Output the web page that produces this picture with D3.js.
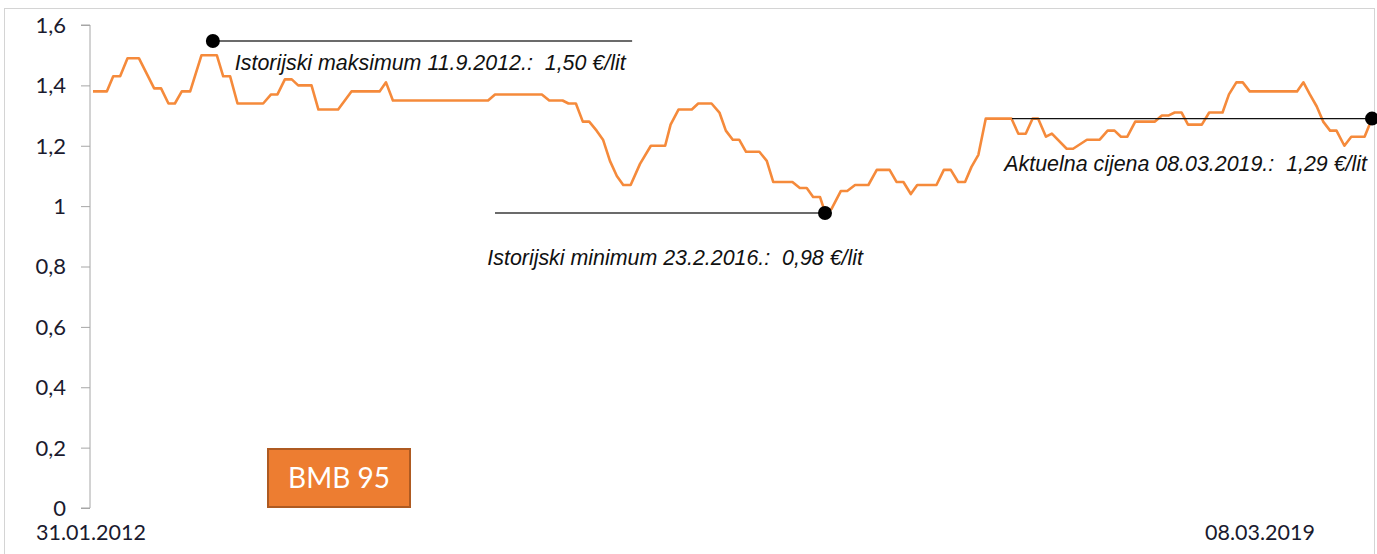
<!DOCTYPE html>
<html>
<head>
<meta charset="utf-8">
<script src="https://cdn.jsdelivr.net/npm/d3@7"></script>
<style>
    body { margin: 0; background: #fff; }
    .lbl { font-family: Lato, "Open Sans", sans-serif; fill: #1a1a2e; }
    .ann { font-family: "Liberation Sans", Arial, sans-serif; font-style: italic; font-size: 21.4px; fill: #111; white-space: pre; }
</style>
</head>
<body>
<script>
    // vertices of the BMB 95 price line (date, €/lit)
    const dates = [
        "2012-01-31","2012-02-28","2012-03-12","2012-03-26","2012-04-10","2012-05-03","2012-06-03","2012-06-17",
        "2012-07-02","2012-07-15","2012-07-29","2012-08-15","2012-09-07","2012-10-08","2012-10-21","2012-11-04",
        "2012-11-19","2013-01-10","2013-01-26","2013-02-08","2013-02-23","2013-03-09","2013-03-22","2013-04-18",
        "2013-05-02","2013-06-11","2013-07-08","2013-09-03","2013-09-16","2013-09-30","2014-04-11","2014-04-25",
        "2014-07-29","2014-08-13","2014-09-09","2014-09-21","2014-10-06","2014-10-20","2014-11-02","2014-11-17",
        "2014-11-30","2014-12-14","2014-12-28","2015-01-10","2015-01-25","2015-02-13","2015-03-07","2015-04-05",
        "2015-04-16","2015-05-02","2015-05-29","2015-06-11","2015-07-08","2015-07-24","2015-08-06","2015-08-20",
        "2015-09-02","2015-09-16","2015-10-13","2015-10-28","2015-11-10","2015-12-19","2016-01-03","2016-01-17",
        "2016-01-30","2016-02-13","2016-02-23","2016-03-07","2016-03-26","2016-04-08","2016-04-24","2016-05-21",
        "2016-06-07","2016-07-03","2016-07-17","2016-07-31","2016-08-15","2016-08-28","2016-10-06","2016-10-21",
        "2016-11-04","2016-11-19","2016-12-03","2016-12-16","2016-12-30","2017-01-14","2017-03-07","2017-03-21",
        "2017-04-05","2017-04-19","2017-04-30","2017-05-16","2017-05-28","2017-06-27","2017-07-10","2017-08-07",
        "2017-09-02","2017-09-18","2017-10-02","2017-10-15","2017-10-28","2017-11-13","2017-12-23","2018-01-06",
        "2018-01-19","2018-02-01","2018-02-15","2018-02-28","2018-03-28","2018-04-12","2018-05-09","2018-05-22",
        "2018-06-06","2018-06-19","2018-07-03","2018-10-07","2018-10-20","2018-11-02","2018-11-16","2018-11-29",
        "2018-12-13","2018-12-26","2019-01-11","2019-01-25","2019-02-21","2019-03-08"
    ];
    const prices = [
        1.38,1.38,1.43,1.43,1.49,1.49,1.39,1.39,
        1.34,1.34,1.38,1.38,1.50,1.50,1.43,1.43,
        1.34,1.34,1.37,1.37,1.42,1.42,1.40,1.40,
        1.32,1.32,1.38,1.38,1.41,1.35,1.35,1.37,
        1.37,1.35,1.35,1.34,1.34,1.28,1.28,1.25,
        1.22,1.15,1.10,1.07,1.07,1.14,1.20,1.20,
        1.27,1.32,1.32,1.34,1.34,1.31,1.25,1.22,
        1.22,1.18,1.18,1.15,1.08,1.08,1.06,1.06,
        1.03,1.03,0.98,0.99,1.05,1.05,1.07,1.07,
        1.12,1.12,1.08,1.08,1.04,1.07,1.07,1.12,
        1.12,1.08,1.08,1.13,1.17,1.29,1.29,1.24,
        1.24,1.29,1.29,1.23,1.24,1.19,1.19,1.22,
        1.22,1.25,1.25,1.23,1.23,1.28,1.28,1.30,
        1.30,1.31,1.31,1.27,1.27,1.31,1.31,1.37,
        1.41,1.41,1.38,1.38,1.41,1.37,1.33,1.28,
        1.25,1.25,1.20,1.23,1.23,1.29
    ];
    const yTicks = [0, 0.2, 0.4, 0.6, 0.8, 1, 1.2, 1.4, 1.6];
    const xLabels = ["31.01.2012", "08.03.2019"];
    const seriesName = "BMB 95";

    // annotations: dot (date, value), horizontal line to another date, text
    const annDates = ["2012-09-30", "2016-02-23", "2019-03-08"];
    const annValues = [1.547, 0.977, 1.29];
    const annLineTo = ["2015-01-28", "2014-04-25", "2017-03-08"];
    const annTexts = [
        "Istorijski maksimum 11.9.2012.:  1,50 €/lit",
        "Istorijski minimum 23.2.2016.:  0,98 €/lit",
        "Aktuelna cijena 08.03.2019.:  1,29 €/lit"
    ];

    const W = 1377, H = 554;
    const parse = d3.timeParse("%Y-%m-%d");
    const data = dates.map((d, i) => ({ date: parse(d), v: prices[i] }));

    const svg = d3.select("body").append("svg")
        .attr("width", W)
        .attr("height", H);

    // outer frame
    svg.append("rect")
        .attr("x", 4.5).attr("y", 8.5)
        .attr("width", 1370).attr("height", 560)
        .attr("fill", "none")
        .attr("stroke", "#d4d4d4")
        .attr("stroke-width", 1);

    const x = d3.scaleTime()
        .domain([parse(dates[0]), parse(dates[dates.length - 1])])
        .range([93, 1372]);
    const y = d3.scaleLinear()
        .domain([0, 1.6])
        .range([508, 25]);

    const yAxis = d3.axisLeft(y)
        .tickValues(yTicks)
        .tickSize(9)
        .tickPadding(15)
        .tickFormat(d => String(d).replace(".", ","));

    const gy = svg.append("g")
        .attr("transform", "translate(90,0)")
        .call(yAxis);
    gy.selectAll("path, line").attr("stroke", "#a6a6a6");
    gy.select(".domain").attr("d", "M-9," + y(0) + "H0V" + y(1.6) + "H-9");
    gy.selectAll("text")
        .attr("class", "lbl")
        .style("font-size", "22px")
        .attr("dy", "0.34em");

    // x labels: first at start, last shown near the end
    svg.append("text")
        .attr("class", "lbl")
        .attr("x", x(data[0].date) - 2)
        .attr("y", 540)
        .attr("text-anchor", "middle")
        .style("font-size", "21.5px")
        .text(xLabels[0]);
    svg.append("text")
        .attr("class", "lbl")
        .attr("x", x(data[data.length - 1].date) - 57)
        .attr("y", 540)
        .attr("text-anchor", "end")
        .style("font-size", "21.5px")
        .text(xLabels[1]);

    const line = d3.line()
        .x(d => x(d.date))
        .y(d => y(d.v));

    svg.append("path")
        .datum(data)
        .attr("d", line)
        .attr("fill", "none")
        .attr("stroke", "#f58a3b")
        .attr("stroke-width", 2.6)
        .attr("stroke-linejoin", "round");

    // annotations
    const annColors = ["#3a3a3a", "#3a3a3a", "#111"];
    const annWidths = [1.6, 1.6, 1.1];
    annDates.forEach((d, i) => {
        const cx = x(parse(d)), cy = y(annValues[i]);
        svg.append("line")
            .attr("x1", cx).attr("x2", x(parse(annLineTo[i])))
            .attr("y1", cy).attr("y2", cy)
            .attr("stroke", annColors[i])
            .attr("stroke-width", annWidths[i]);
        svg.append("circle")
            .attr("cx", cx).attr("cy", cy)
            .attr("r", 7)
            .attr("fill", "#000");
    });

    const maxX = x(parse(annDates[0])), maxY = y(annValues[0]);
    svg.append("text").attr("class", "ann")
        .attr("x", maxX + 22).attr("y", maxY + 29)
        .text(annTexts[0]);

    const minX = x(parse(annDates[1])), minY = y(annValues[1]);
    svg.append("text").attr("class", "ann")
        .attr("x", minX + 38).attr("y", minY + 52)
        .attr("text-anchor", "end")
        .text(annTexts[1]);

    const curX = x(parse(annDates[2])), curY = y(annValues[2]);
    svg.append("text").attr("class", "ann")
        .attr("x", curX - 5).attr("y", curY + 52)
        .attr("text-anchor", "end")
        .text(annTexts[2]);

    // series label box
    svg.append("rect")
        .attr("x", 268).attr("y", 449)
        .attr("width", 142).attr("height", 58)
        .attr("fill", "#ed7d31")
        .attr("stroke", "#ae5a21")
        .attr("stroke-width", 2);
    svg.append("text")
        .attr("x", 339).attr("y", 478)
        .attr("dy", "0.35em")
        .attr("text-anchor", "middle")
        .style("font-family", "Lato, 'Open Sans', sans-serif")
        .style("font-size", "28px")
        .attr("fill", "#fff")
        .text(seriesName);
</script>
</body>
</html>
